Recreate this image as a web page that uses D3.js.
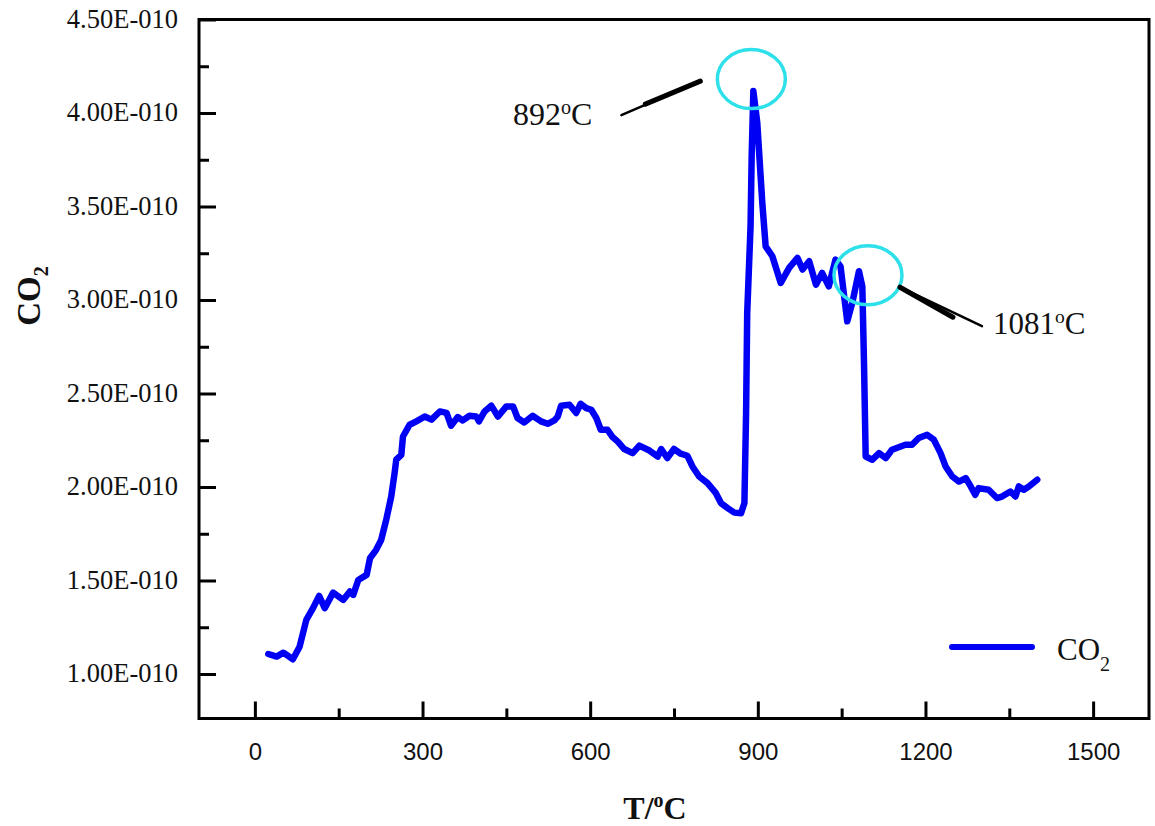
<!DOCTYPE html>
<html>
<head>
<meta charset="utf-8">
<script src="https://cdn.jsdelivr.net/npm/d3@7/dist/d3.min.js"></script>
<style>
  html, body { margin: 0; padding: 0; background: #fff; }
  svg { display: block; }
</style>
</head>
<body>
<svg id="chart" width="1155" height="826"></svg>
<script>
// Temperature (°C) of each CO2 reading
const temps = [
  24, 39, 51, 68, 80, 92, 104, 115, 125, 140, 158, 170, 176, 185, 200, 206, 217, 226, 235, 244,
  250, 253, 262, 265, 277, 289, 304, 316, 331, 343, 351, 363, 372, 384, 396, 401, 411, 423, 435, 450,
  462, 470, 482, 497, 512, 524, 536, 542, 548, 563, 575, 583, 593, 602, 611, 619, 631, 640, 649, 661,
  676, 688, 706, 721, 727, 738, 750, 762, 774, 783, 795, 810, 825, 834, 846, 858, 870, 876, 879, 881,
  887, 889, 892, 899, 902, 908, 914, 926, 941, 956, 971, 980, 992, 1004, 1015, 1027, 1039, 1048, 1060, 1069,
  1081, 1087, 1090, 1093, 1105, 1117, 1129, 1140, 1164, 1176, 1188, 1203, 1215, 1227, 1236, 1248, 1260, 1272, 1281, 1289,
  1295, 1313, 1328, 1337, 1352, 1361, 1367, 1376, 1385, 1400
];
// CO2 signal, in units of 1E-010
const co2 = [
  1.107, 1.093, 1.114, 1.079, 1.146, 1.289, 1.352, 1.418, 1.352, 1.435, 1.396, 1.441, 1.423, 1.503, 1.530, 1.619, 1.664, 1.717, 1.824, 1.949,
  2.074, 2.146, 2.172, 2.270, 2.333, 2.351, 2.377, 2.360, 2.404, 2.396, 2.328, 2.374, 2.356, 2.381, 2.377, 2.351, 2.404, 2.435, 2.377, 2.431,
  2.431, 2.369, 2.345, 2.381, 2.351, 2.338, 2.356, 2.377, 2.435, 2.440, 2.396, 2.445, 2.422, 2.413, 2.369, 2.306, 2.306, 2.267, 2.244, 2.203,
  2.181, 2.221, 2.195, 2.163, 2.203, 2.155, 2.203, 2.178, 2.167, 2.110, 2.056, 2.021, 1.967, 1.914, 1.887, 1.863, 1.860, 1.914, 2.396, 2.931,
  3.395, 3.769, 4.117, 3.948, 3.805, 3.520, 3.287, 3.234, 3.091, 3.172, 3.225, 3.163, 3.207, 3.082, 3.145, 3.073, 3.216, 3.180, 2.886, 2.984,
  3.154, 3.073, 2.663, 2.163, 2.146, 2.181, 2.155, 2.199, 2.226, 2.226, 2.262, 2.279, 2.253, 2.181, 2.110, 2.056, 2.029, 2.048, 2.003, 1.958,
  1.994, 1.985, 1.941, 1.949, 1.976, 1.949, 2.003, 1.985, 2.003, 2.039
];

const xMajorTicks = [0, 300, 600, 900, 1200, 1500];
const xMinorTicks = [150, 450, 750, 1050, 1350];
const yMajorTicks = [1.0, 1.5, 2.0, 2.5, 3.0, 3.5, 4.0, 4.5];
const yMinorTicks = [1.25, 1.75, 2.25, 2.75, 3.25, 3.75, 4.25];

// Marked peaks
const peakLabels = ["892", "1081"];
const peakTemps = [892, 1081];
const peakValues = [4.117, 3.154];

const svg = d3.select("#chart");
const plotLeft = 199, plotRight = 1149, plotTop = 19.5, plotBottom = 718.5;

const x = d3.scaleLinear().domain([-100, 1600]).range([plotLeft, plotRight]);
const y = d3.scaleLinear().domain([0.762, 4.5]).range([plotBottom, plotTop]);

const serif = "'Liberation Serif', 'Times New Roman', serif";
const sans = "'Liberation Sans', Arial, sans-serif";

// Y axis: inward major and minor ticks
const yAxis = svg.append("g").attr("transform", `translate(${plotLeft},0)`)
  .call(d3.axisLeft(y).tickValues(yMajorTicks).tickSizeInner(-17).tickSizeOuter(0)
    .tickPadding(21).tickFormat(d => d.toFixed(2) + "E-010"));
yAxis.select(".domain").remove();
yAxis.selectAll(".tick line").attr("stroke", "#000").attr("stroke-width", 3);
yAxis.selectAll(".tick text").attr("font-family", serif).attr("font-size", 26.5)
  .attr("fill", "#111").attr("dy", "0.3em");

const yMinor = svg.append("g").attr("transform", `translate(${plotLeft},0)`)
  .call(d3.axisLeft(y).tickValues(yMinorTicks).tickSizeInner(-10).tickSizeOuter(0).tickFormat(""));
yMinor.select(".domain").remove();
yMinor.selectAll(".tick line").attr("stroke", "#000").attr("stroke-width", 3);

// X axis
const xAxis = svg.append("g").attr("transform", `translate(0,${plotBottom})`)
  .call(d3.axisBottom(x).tickValues(xMajorTicks).tickSizeInner(-17).tickSizeOuter(0)
    .tickPadding(24).tickFormat(d3.format("d")));
xAxis.select(".domain").remove();
xAxis.selectAll(".tick line").attr("stroke", "#000").attr("stroke-width", 3);
xAxis.selectAll(".tick text").attr("font-family", sans).attr("font-size", 24).attr("fill", "#111");

const xMinor = svg.append("g").attr("transform", `translate(0,${plotBottom})`)
  .call(d3.axisBottom(x).tickValues(xMinorTicks).tickSizeInner(-10).tickSizeOuter(0).tickFormat(""));
xMinor.select(".domain").remove();
xMinor.selectAll(".tick line").attr("stroke", "#000").attr("stroke-width", 3);

// Plot frame
svg.append("rect")
  .attr("x", plotLeft).attr("y", plotTop)
  .attr("width", plotRight - plotLeft).attr("height", plotBottom - plotTop)
  .attr("fill", "none").attr("stroke", "#000").attr("stroke-width", 3);

// CO2 curve
const pts = temps.map((t, i) => [t, co2[i]]);
svg.append("path")
  .datum(pts)
  .attr("fill", "none")
  .attr("stroke", "#0000f5")
  .attr("stroke-width", 6.5)
  .attr("stroke-linejoin", "round")
  .attr("stroke-linecap", "round")
  .attr("d", d3.line().x(d => x(d[0])).y(d => y(d[1])));

// Peak rings, pointers and labels (offsets from ring centre)
const ringOffsets = [[-2, -12], [9, 4]];
const pointerGeom = [
  { a: [-130, 36], b: [-106, 25], c: [-51, 2] },
  { a: [114, 51], b: [85, 42], c: [32, 12] }
];
const labelAnchor = [[-159, 46, "end"], [125, 59, "start"]];
const labelSizes = [32, 31];

peakTemps.forEach((t, i) => {
  const cx = x(t) + ringOffsets[i][0];
  const cy = y(peakValues[i]) + ringOffsets[i][1];
  svg.append("ellipse")
    .attr("cx", cx).attr("cy", cy).attr("rx", 34).attr("ry", 29.5)
    .attr("fill", "none").attr("stroke", "#2ee0ea").attr("stroke-width", 3.5);

  const g = pointerGeom[i];
  svg.append("line")
    .attr("x1", cx + g.a[0]).attr("y1", cy + g.a[1])
    .attr("x2", cx + g.c[0]).attr("y2", cy + g.c[1])
    .attr("stroke", "#000").attr("stroke-width", 2.5).attr("stroke-linecap", "round");
  svg.append("line")
    .attr("x1", cx + g.b[0]).attr("y1", cy + g.b[1])
    .attr("x2", cx + g.c[0]).attr("y2", cy + g.c[1])
    .attr("stroke", "#000").attr("stroke-width", 5).attr("stroke-linecap", "round");

  const la = labelAnchor[i];
  const fs = labelSizes[i];
  const txt = svg.append("text")
    .attr("x", cx + la[0]).attr("y", cy + la[1])
    .attr("text-anchor", la[2])
    .attr("font-family", serif).attr("font-size", fs).attr("fill", "#111");
  txt.append("tspan").text(peakLabels[i]);
  txt.append("tspan").attr("dy", -11).attr("font-size", fs * 0.63).text("o");
  txt.append("tspan").attr("dy", 11).text("C");
});

// Legend
svg.append("line")
  .attr("x1", 952).attr("x2", 1032).attr("y1", 647).attr("y2", 647)
  .attr("stroke", "#0000f5").attr("stroke-width", 6).attr("stroke-linecap", "round");
const legText = svg.append("text")
  .attr("x", 1057).attr("y", 660)
  .attr("font-family", serif).attr("font-size", 31).attr("fill", "#111");
legText.append("tspan").text("CO");
legText.append("tspan").attr("dy", 11).attr("font-size", 20).text("2");

// Axis titles
const xt = svg.append("text")
  .attr("x", 655).attr("y", 819)
  .attr("text-anchor", "middle")
  .attr("font-family", serif).attr("font-weight", "bold").attr("font-size", 32).attr("fill", "#111");
xt.append("tspan").text("T/");
xt.append("tspan").attr("dy", -12).attr("font-size", 20).text("o");
xt.append("tspan").attr("dy", 12).text("C");

const yt = svg.append("text")
  .attr("transform", "translate(40,296) rotate(-90)")
  .attr("text-anchor", "middle")
  .attr("font-family", serif).attr("font-weight", "bold").attr("font-size", 33).attr("fill", "#111");
yt.append("tspan").text("CO");
yt.append("tspan").attr("dy", 8).attr("font-size", 20).text("2");
</script>
</body>
</html>
